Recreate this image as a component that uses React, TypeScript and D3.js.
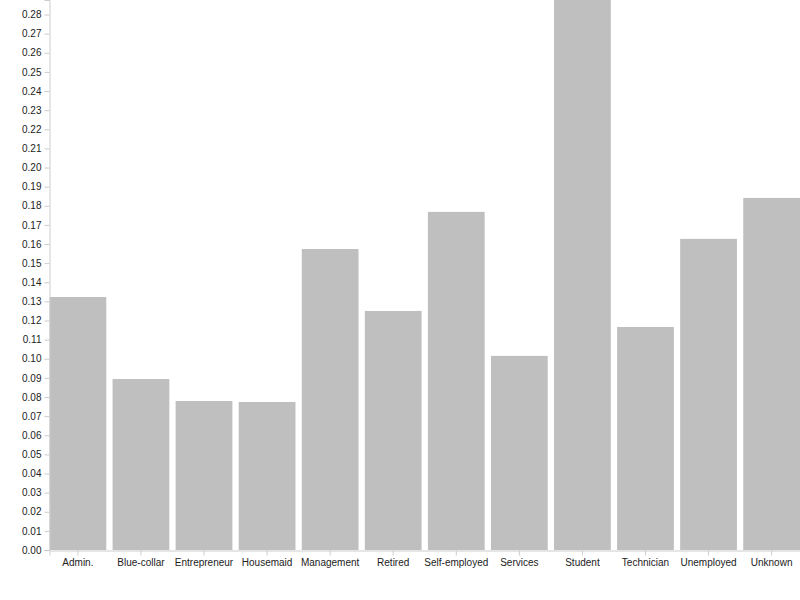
import React, { useEffect, useRef } from "react";
import * as d3 from "d3";

const categories = ["Admin.", "Blue-collar", "Entrepreneur", "Housemaid", "Management", "Retired", "Self-employed", "Services", "Student", "Technician", "Unemployed", "Unknown"];
const values = [0.1323, 0.0894, 0.0779, 0.0774, 0.1574, 0.125, 0.1768, 0.1015, 0.2876, 0.1166, 0.1627, 0.1841];

export default function App() {
  const ref = useRef<SVGSVGElement>(null);
  useEffect(() => {
    const svg = d3.select(ref.current);
    svg.selectAll("*").remove();
    const left = 49.5, right = 800, top = 0, bottom = 550;
    const x = d3.scaleBand().domain(categories).range([left, right]).paddingInner(0.1).paddingOuter(0);
    const y = d3.scaleLinear().domain([0, d3.max(values) as number]).range([bottom, top]);

    svg.append("g").selectAll("rect").data(values).join("rect")
      .attr("x", (_, i) => x(categories[i]) as number)
      .attr("width", x.bandwidth())
      .attr("y", d => y(d))
      .attr("height", d => bottom - y(d))
      .attr("fill", "#bfbfbf");

    const ticks = d3.range(0, 0.2801, 0.01);
    const ya = svg.append("g").attr("transform", `translate(${left},0)`)
      .call(d3.axisLeft(y).tickValues(ticks).tickFormat(d3.format(".2f")).tickSize(5).tickPadding(3));
    const xa = svg.append("g").attr("transform", `translate(0,${bottom + 0.5})`)
      .call(d3.axisBottom(x).tickSize(5).tickPadding(3));
    [ya, xa].forEach(a => {
      a.selectAll("path").attr("stroke", "#ccc");
      a.selectAll("line").attr("stroke", "#ccc");
      a.selectAll("text").attr("fill", "#222").attr("font-size", 10).attr("font-family", "Liberation Sans, Arial, sans-serif");
    });
  }, []);
  return (
    <svg ref={ref} width={800} height={600} style={{ position: "absolute", left: 0, top: 0, background: "#fff" }} />
  );
}
